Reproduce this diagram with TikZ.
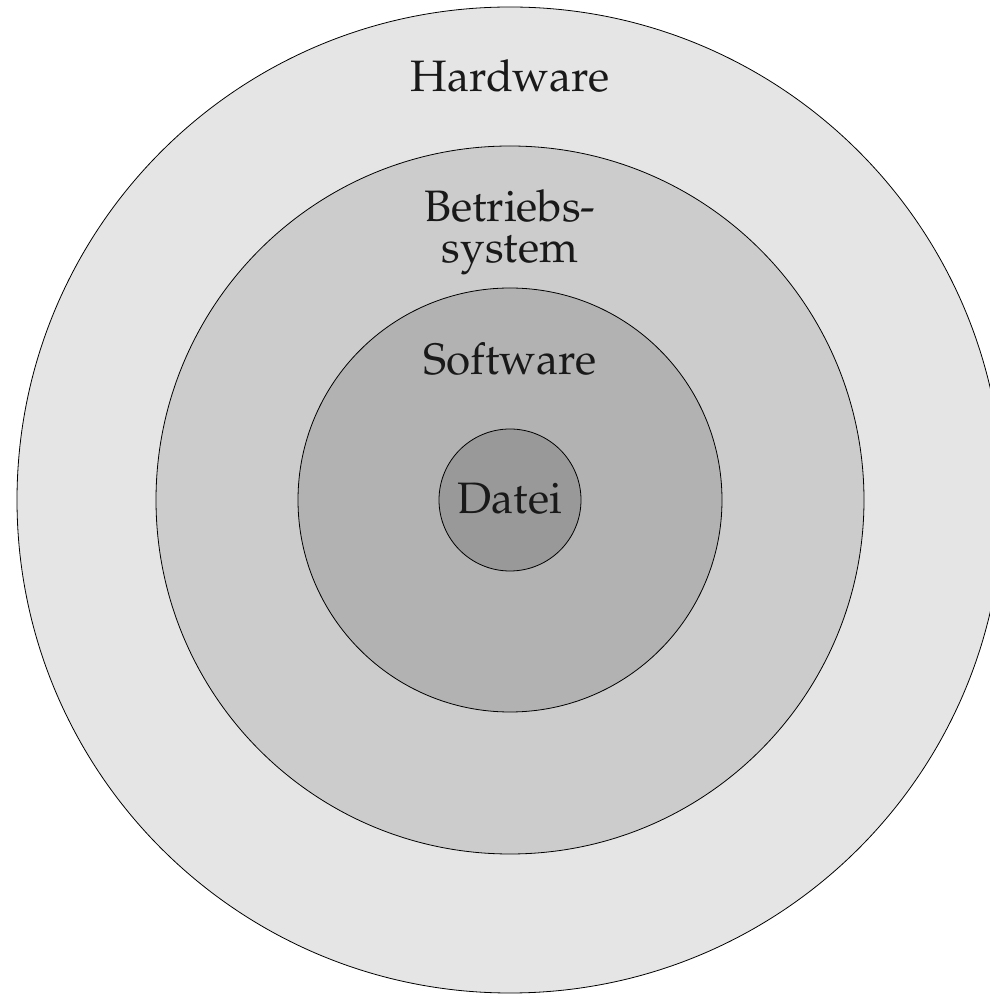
\documentclass[tikz,border=0pt]{standalone}
\usepackage[T1]{fontenc}
\usepackage{mathpazo}
\begin{document}
\begin{tikzpicture}[x=1pt,y=1pt,
  ring/.style={circle, draw=black, line width=0.8pt, inner sep=0pt},
  lbl/.style={font=\fontsize{44}{42}\selectfont, inner sep=0pt, text=black!90, align=center}]
\useasboundingbox (0,0) rectangle (990,994);
\begin{scope}
\clip (0,0) rectangle (990,994);
\node[ring, fill=black!10, minimum size=986] (hw) at (510,494) {};
\node[ring, fill=black!20, minimum size=708] (bs) at (510,494) {};
\node[ring, fill=black!30, minimum size=424] (sw) at (510,494) {};
\node[ring, fill=black!40, minimum size=142] (dt) at (510,494) {};
\end{scope}
\node[lbl, anchor=base] (thw) at (510,902) {Hardware};
\node[lbl, anchor=base] (tbs1) at (510,772) {Betriebs-};
\node[lbl, anchor=base] (tbs2) at (510,731) {system};
\node[lbl, anchor=base] (tsw) at (510,619) {Software};
\node[lbl, anchor=base] (tdt) at (510,480) {Datei};
\end{tikzpicture}
\end{document}
